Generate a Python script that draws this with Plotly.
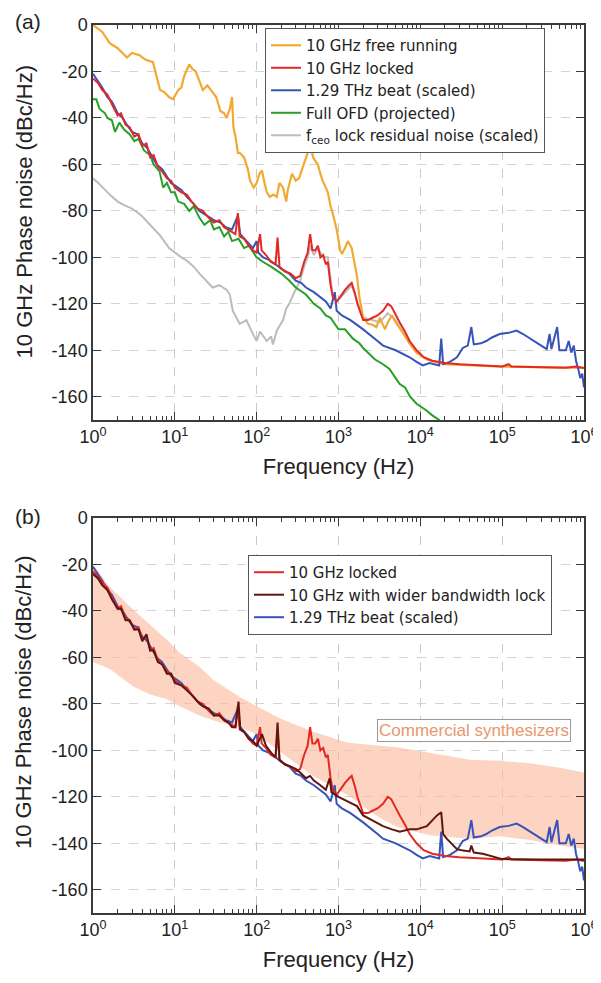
import plotly.graph_objects as go

# ---------------- data ----------------
# Panel (a) / (b) shared: 10 GHz locked
locked_f = [1, 1.15, 1.3, 1.5, 1.7, 2.0, 2.2, 2.5, 2.8, 3.2, 3.6, 4.0, 4.5, 5.0, 5.5, 6.2, 7.0, 8.0, 9.0,
            10, 12, 14, 16, 19, 22, 26, 30, 35, 40, 45, 50, 55, 59, 62, 70, 80, 90, 100, 110, 115, 130,
            150, 170, 180, 190, 220, 260, 300, 340, 380, 420, 450, 480, 520, 560, 600, 650, 700, 740,
            800, 850, 950, 1050, 1200, 1350, 1450, 1600, 1700, 2000, 2300, 2600, 3000, 3500, 4000, 4400,
            5000, 5600, 6500, 7400, 9000, 11000, 14000, 20000, 30000, 50000, 100000, 120000, 130000,
            300000, 600000, 800000, 1000000]
locked_db = [-23, -25, -28, -30, -34, -39, -38, -43, -44, -48, -47, -52, -51, -57, -56, -61, -63, -66, -67,
             -70, -72, -73, -76, -79, -80, -83, -85, -84, -87, -88, -89, -90, -81, -91, -92, -95, -97, -98, -90, -97, -99,
             -102, -103, -91.5, -104, -106, -107, -109, -108, -102, -98, -90, -97, -97, -95, -100, -99, -103, -102,
             -112, -117, -119, -117, -114, -112, -111, -116, -120, -127, -127, -126, -125, -123, -120, -121,
             -125, -128, -132, -136, -140, -143, -144.5, -145.5, -146, -146.5, -147, -146, -147,
             -147.3, -147.5, -147, -147.6]

# 1.29 THz beat (scaled)
beat_f = [1, 1.15, 1.3, 1.5, 1.7, 2.0, 2.3, 2.6, 3.0, 3.5, 4.0, 4.6, 5.2, 6.0, 7.0, 8.0, 9.0, 10, 12, 14,
          17, 20, 25, 30, 36, 42, 50, 59, 63, 75, 90, 100, 105, 120, 140, 170, 200, 250, 300, 350, 400,
          500, 600, 700, 800, 900, 950, 1100, 1400, 2000, 3000, 3500, 5000, 7400, 9000, 10700, 13000,
          15700, 17000, 18000, 19000, 23000, 28000, 33000, 38000, 42000, 45000, 55000, 64000, 75000,
          93000, 120000, 150000, 180000, 240000, 300000, 350000, 380000, 400000, 470000, 500000,
          600000, 650000, 700000, 750000, 800000, 850000, 900000, 950000, 1000000]
beat_db = [-21, -24, -27, -31, -33, -38, -40, -43, -46, -47, -51, -53, -56, -60, -62, -65, -68, -69, -71, -74,
           -77, -80, -82, -84, -85, -87, -88, -82, -90, -93, -96, -93, -98, -100, -101, -103, -105, -107, -110, -111, -113,
           -115, -117, -119, -122, -115, -123, -125, -127, -131, -136, -138, -140, -143, -145, -146.5, -145.5,
           -146, -146.5, -135, -146, -145, -143, -139, -138, -130, -137.5, -137, -136, -134.5,
           -133, -132.5, -131.5, -133, -136, -138, -139.5, -133, -139.5, -130, -140,
           -140, -136, -141, -138, -144.6, -148, -152, -150, -156]

# Full OFD (projected)
ofd_f = [1, 1.1, 1.2, 1.4, 1.5, 1.7, 1.86, 2.1, 2.4, 2.8, 3.2, 3.6, 4.2, 5.0, 5.5, 6.5, 7.2, 8, 9, 10, 11,
         13, 15, 17, 20, 23, 27, 30, 35, 40, 45, 50, 60, 70, 80, 100, 120, 150, 200, 250, 300, 400, 500,
         600, 700, 800, 1000, 1200, 1500, 1800, 2000, 2400, 2800, 3500, 4200, 5000, 5600, 6500, 7500,
         9000, 10000, 12000, 14000, 17000, 18000]
ofd_db = [-32, -32, -36, -38, -40, -41, -46, -42, -45, -47, -50, -49, -54, -56, -60, -63, -70, -68, -72, -72, -76,
          -77, -80, -78, -83, -86, -84, -88, -87, -91, -89, -93, -92, -96, -95, -100, -102, -104, -107, -110, -113, -116, -120,
          -122, -125, -126, -131, -131, -135, -137, -139, -141.6, -144, -146, -148, -152, -154.5, -156, -160,
          -163, -164, -166, -168, -170, -172]

# f_ceo lock residual noise (scaled)
ceo_f = [1, 1.2, 1.6, 2.0, 2.4, 3.0, 3.9, 5.1, 6.6, 8.5, 10, 12, 14, 17, 20, 24, 29, 35, 43, 47, 51, 62, 75,
         90, 100, 110, 133, 150, 158, 176, 195, 210, 230, 250, 280, 310, 340, 380, 420, 450, 500, 560, 650,
         740, 800, 850, 950, 1200, 1450, 1700, 2000, 2600, 3200, 4000, 5000, 6000, 7400, 9000]
ceo_db = [-66, -68.5, -73, -76, -77.5, -79, -82, -86.5, -90.6, -96, -98, -100, -101.4, -104, -107, -110, -113, -112,
          -114, -116, -123, -128.6, -127, -133, -136, -132, -136, -134, -137.5, -131.6, -129, -127, -122, -120, -116,
          -113, -110, -104, -100, -95, -99, -96, -100, -100, -110, -116, -119, -115, -112, -119, -126, -127, -128,
          -124, -127, -132, -137, -141]

# 10 GHz free running
free_f = [1, 1.1, 1.3, 1.6, 2.0, 2.6, 3.0, 3.7, 4.4, 5.4, 6.0, 6.6, 7.5, 8.5, 9.5, 11, 12, 13, 15, 16.5, 18,
          20, 22, 25, 29, 32, 36, 40, 43, 47, 50, 52, 55, 59, 62, 70, 78, 83, 92, 100, 108, 116, 125, 133,
          145, 160, 176, 190, 210, 230, 240, 270, 300, 330, 355, 390, 430, 445, 470, 490, 530, 560, 600,
          640, 700, 740, 800, 850, 950, 1050, 1100, 1200, 1300, 1450, 1600, 1680, 1800, 2000, 2300, 2600,
          2900, 3200, 3700, 4000, 4500, 5000, 6000, 7400, 9000, 12000, 20000, 100000, 1000000]
free_db = [0, -1, -3, -7.8, -10, -14, -12, -13, -15, -16, -22, -28, -29, -31, -32, -28, -27, -22, -17, -19, -20,
           -24, -28, -26, -29, -31, -37, -38, -40, -36, -31, -44, -48, -55, -55, -57, -62, -67, -70, -68, -64, -62.6, -68, -72,
           -74, -73, -74, -68, -70, -76, -71, -64, -67, -66, -62.6, -58, -54, -51, -55, -57, -59, -60, -64,
           -67, -70, -72, -78, -81, -88, -97, -98.5, -96, -93, -96, -104, -108, -117, -126, -128.6, -129,
           -130, -126, -131, -128, -125, -128, -132, -137, -141, -144, -146, -147, -147.6]

# 10 GHz with wider bandwidth lock (panel b)
wide_f = [1, 1.15, 1.3, 1.5, 1.7, 2.0, 2.2, 2.5, 2.8, 3.2, 3.6, 4.0, 4.5, 5.0, 5.5, 6.2, 7.0, 8.0, 9.0, 10, 12,
          14, 16, 19, 22, 26, 30, 35, 40, 45, 50, 55, 60, 63, 70, 80, 90, 100, 116, 130, 150, 170, 180, 190,
          220, 260, 300, 350, 400, 450, 500, 600, 700, 780, 820, 1000, 1300, 1680, 2000, 2600, 3500, 4500,
          5600, 7400, 9000, 12000, 16000, 18000, 19000, 21000, 25000, 28000, 32000, 40000, 42000, 45000,
          58000, 80000, 100000, 300000, 1000000]
wide_db = [-24, -26, -29, -31, -35, -39, -39, -44, -44, -48, -48, -53, -50, -57, -57, -62, -63, -67, -67, -71, -72,
           -74, -76, -79, -81, -82, -85, -85, -87, -88, -90, -90, -79, -91, -92, -95, -96, -98, -93, -98, -101, -103, -88, -104,
           -106, -107, -108, -110, -112, -111, -113, -115, -117, -112, -118, -120, -122, -124, -128, -130, -132.6, -134,
           -135, -134, -134, -132.6, -128, -126.6, -136, -138, -141, -142.5, -143, -143.5, -141, -144,
           -144.5, -146, -146.8, -147, -147]

# Commercial synthesizers band (panel b)
band_f = [1, 1.6, 3.1, 5, 8, 11.5, 20, 29, 62, 100, 200, 490, 1260, 3200, 5200, 13000, 40000, 93000, 220000,
          500000, 1000000]
band_upper = [-20, -29.6, -39.5, -46, -52.4, -58, -64, -69.5, -77, -81, -86.5, -92, -96.6, -98, -98.7, -101,
              -104, -104.5, -105.6, -107.5, -109.5]
band_lower = [-62, -65, -72.5, -76, -78, -81, -85, -87, -90, -93, -101, -111, -119, -129, -133, -136.5,
              -138, -137, -138.6, -141, -142.5]

xtick_vals = [1, 10, 100, 1000, 10000, 100000, 1000000]
xtick_text = ["10<sup>0</sup>", "10<sup>1</sup>", "10<sup>2</sup>", "10<sup>3</sup>",
              "10<sup>4</sup>", "10<sup>5</sup>", "10<sup>6</sup>"]
ytick_vals = [0, -20, -40, -60, -80, -100, -120, -140, -160]
ytick_text = ["0", "-20", "-40", "-60", "-80", "-100", "-120", "-140", "-160"]

# ---------------- styles ----------------
C_ORANGE = "rgb(240,170,50)"
C_RED = "rgb(228,40,36)"
C_BLUE = "rgb(55,82,185)"
C_GREEN = "rgb(40,160,40)"
C_GRAY = "rgb(188,188,188)"
C_BROWN = "rgb(95,22,15)"
FONT = "Liberation Sans, Arial, sans-serif"
AX = "#3a3a3a"

fig = go.Figure()

# Panel (a)
fig.add_trace(go.Scatter(x=ceo_f, y=ceo_db, mode="lines", line=dict(color=C_GRAY, width=2),
                         name="f<sub>ceo</sub> lock residual noise (scaled)", legendrank=5,
                         xaxis="x", yaxis="y", legend="legend"))
fig.add_trace(go.Scatter(x=free_f, y=free_db, mode="lines", line=dict(color=C_ORANGE, width=2.2),
                         name="10 GHz free running", legendrank=1, xaxis="x", yaxis="y", legend="legend"))
fig.add_trace(go.Scatter(x=ofd_f, y=ofd_db, mode="lines", line=dict(color=C_GREEN, width=2),
                         name="Full OFD (projected)", legendrank=4, xaxis="x", yaxis="y", legend="legend"))
fig.add_trace(go.Scatter(x=beat_f, y=beat_db, mode="lines", line=dict(color=C_BLUE, width=2),
                         name="1.29 THz beat (scaled)", legendrank=3, xaxis="x", yaxis="y", legend="legend"))
fig.add_trace(go.Scatter(x=locked_f, y=locked_db, mode="lines", line=dict(color=C_RED, width=2),
                         name="10 GHz locked", legendrank=2, xaxis="x", yaxis="y", legend="legend"))

# Panel (b)
fig.add_trace(go.Scatter(x=band_f + band_f[::-1], y=band_upper + band_lower[::-1], mode="lines",
                         fill="toself", fillcolor="rgba(250,185,155,0.62)", line=dict(width=0),
                         showlegend=False, hoverinfo="skip", xaxis="x2", yaxis="y2"))
fig.add_trace(go.Scatter(x=beat_f, y=beat_db, mode="lines", line=dict(color=C_BLUE, width=2),
                         name="1.29 THz beat (scaled)", legendrank=3, xaxis="x2", yaxis="y2", legend="legend2"))
fig.add_trace(go.Scatter(x=locked_f, y=locked_db, mode="lines", line=dict(color=C_RED, width=2),
                         name="10 GHz locked", legendrank=1, xaxis="x2", yaxis="y2", legend="legend2"))
fig.add_trace(go.Scatter(x=wide_f, y=wide_db, mode="lines", line=dict(color=C_BROWN, width=2),
                         name="10 GHz with wider bandwidth lock", legendrank=2, xaxis="x2", yaxis="y2",
                         legend="legend2"))

minor_vals = [k * 10 ** n for n in range(6) for k in range(2, 10)]


def xaxis(anchor):
    return dict(type="log", range=[0, 6], anchor=anchor, domain=[0, 1], automargin=False,
                tickmode="array", tickvals=xtick_vals, ticktext=xtick_text,
                ticks="inside", ticklen=8, tickwidth=1.2, tickcolor=AX,
                minor=dict(tickmode="array", tickvals=minor_vals, ticks="inside", ticklen=4,
                           tickcolor=AX, showgrid=False),
                showline=True, linecolor=AX, linewidth=1.5, mirror="allticks",
                showgrid=True, gridcolor="#c9c9c9", griddash="dash", gridwidth=1,
                tickfont=dict(family=FONT, size=18, color="#222"),
                title=dict(text="Frequency (Hz)", font=dict(family=FONT, size=22, color="#222"), standoff=12),
                zeroline=False)


def yaxis(anchor, dom):
    return dict(range=[-170, 0], anchor=anchor, domain=dom, automargin=False,
                tickmode="array", tickvals=ytick_vals, ticktext=ytick_text,
                ticks="inside", ticklen=8, tickwidth=1.2, tickcolor=AX,
                showline=True, linecolor=AX, linewidth=1.5, mirror="allticks",
                showgrid=True, gridcolor="#d4d4d4", griddash="dash", gridwidth=1,
                tickfont=dict(family=FONT, size=18, color="#222"), zeroline=False)


# The page body has an 8 px margin, so the figure is 8 px smaller and margins are offset.
fig.update_layout(
    width=593, height=975,
    margin=dict(l=85, r=17, t=17, b=70, autoexpand=False),
    paper_bgcolor="white", plot_bgcolor="white",
    xaxis=xaxis("y"), yaxis=yaxis("x", [0.5552, 1.0]),
    xaxis2=xaxis("y2"), yaxis2=yaxis("x2", [0.0, 0.4448]),
    legend=dict(x=0.3503, y=0.9966, xanchor="left", yanchor="top", bgcolor="white",
                bordercolor="#555", borderwidth=1, font=dict(family="DejaVu Sans", size=15, color="#222"),
                tracegroupgap=0),
    legend2=dict(x=0.3157, y=0.4032, xanchor="left", yanchor="top", bgcolor="white",
                 bordercolor="#555", borderwidth=1, font=dict(family="DejaVu Sans", size=15, color="#222"),
                 tracegroupgap=0),
    showlegend=True,
    annotations=[
        dict(text="(a)", x=-0.132, y=1.0191, xref="paper", yref="paper", showarrow=False,
             xanchor="center", yanchor="top", font=dict(family=FONT, size=21, color="#222")),
        dict(text="(b)", x=-0.132, y=0.447, xref="paper", yref="paper", showarrow=False,
             xanchor="center", yanchor="middle", font=dict(family=FONT, size=21, color="#222")),
        dict(text="10 GHz Phase noise (dBc/Hz)", x=-0.1405, y=0.789, xref="paper", yref="paper",
             xanchor="center", yanchor="middle",
             textangle=-90, showarrow=False, font=dict(family=FONT, size=22, color="#222")),
        dict(text="10 GHz Phase noise (dBc/Hz)", x=-0.1405, y=0.2365, xref="paper", yref="paper",
             xanchor="center", yanchor="middle",
             textangle=-90, showarrow=False, font=dict(family=FONT, size=22, color="#222")),
        dict(text="Commercial synthesizers", x=4.65, y=-91.4, xref="x2", yref="y2", showarrow=False,
             xanchor="center", yanchor="middle",
             bgcolor="white", bordercolor="#9a9a9a", borderwidth=1, borderpad=1,
             font=dict(family=FONT, size=17, color="rgb(232,150,110)")),
    ],
)

fig.write_html("out.html")
